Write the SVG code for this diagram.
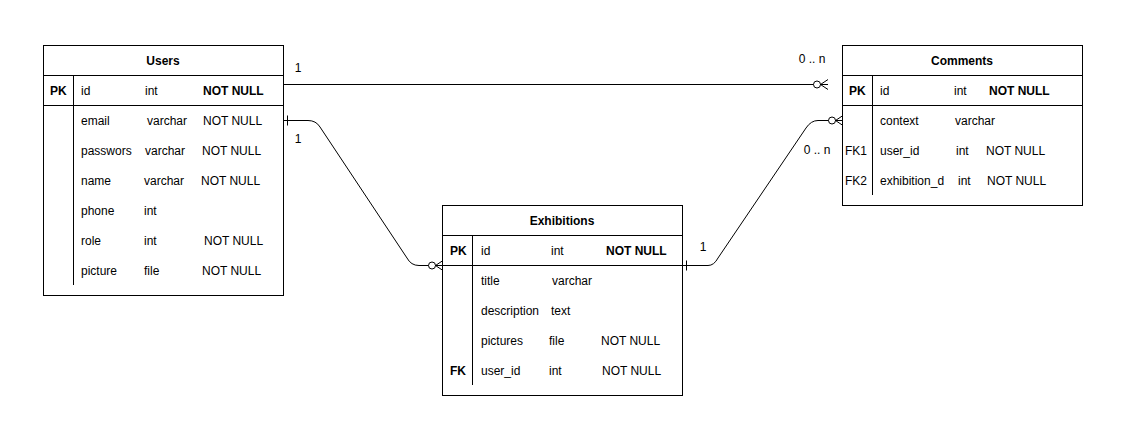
<svg xmlns="http://www.w3.org/2000/svg" width="1131" height="436" viewBox="0 0 1131 436">
<style>
.box{fill:#fff;stroke:#000;stroke-width:1}
.ln{stroke:#000;stroke-width:1;fill:none}
text{font-family:"Liberation Sans",Arial,sans-serif;font-size:12px;fill:#000}
.b{font-weight:bold}
.c{text-anchor:middle}
.conn{stroke:#000;stroke-width:1;fill:none}
</style>
<defs>
<marker id="many" markerWidth="16" markerHeight="12" refX="15" refY="6" orient="auto" markerUnits="userSpaceOnUse">
<circle cx="4" cy="6" r="3.5" fill="#fff" stroke="#000"/>
<path d="M7.5 6 L15 6 M7.5 6 L15 1 M7.5 6 L15 11" stroke="#000" fill="none"/>
</marker>
<marker id="one" markerWidth="10" markerHeight="12" refX="0" refY="6" orient="auto" markerUnits="userSpaceOnUse">
<path d="M4.5 1 L4.5 11" stroke="#000"/>
</marker>
</defs>
<rect width="1131" height="436" fill="#fff"/>

<g id="connectors">
<path class="conn" d="M282.5 84.5 L828 84.5" stroke="#555" marker-end="url(#many)"/>
<path class="conn" d="M283 120.5 L308 120.5 Q316 120.5 320 127 L407 258 Q411 265.5 419 265.5 L443 265.5" marker-start="url(#one)" marker-end="url(#many)"/>
<path class="conn" d="M682 265.5 L708 265.5 Q714 265.5 718 258 L806 128 Q811 120.5 818 120.5 L843 120.5" marker-start="url(#one)" marker-end="url(#many)"/>
<text x="298" y="72" class="c">1</text>
<text x="298" y="143" class="c">1</text>
<text x="812" y="63" class="c">0 .. n</text>
<text x="817" y="154" class="c">0 .. n</text>
<text x="703" y="251" class="c">1</text>
</g>

<g id="users">
<rect class="box" x="43.5" y="45.5" width="240" height="250"/>
<path class="ln" d="M43.5 75.5 H283.5 M43.5 105.5 H283.5 M73.5 75.5 V285"/>
<text x="163" y="65" class="c b">Users</text>
<text x="50" y="95" class="b">PK</text>
<text x="81" y="95">id</text>
<text x="145" y="95">int</text>
<text x="203" y="95" class="b">NOT NULL</text>
<text x="81" y="125">email</text><text x="147" y="125">varchar</text><text x="203" y="125">NOT NULL</text>
<text x="81" y="155">passwors</text><text x="145" y="155">varchar</text><text x="202" y="155">NOT NULL</text>
<text x="81" y="185">name</text><text x="144" y="185">varchar</text><text x="201" y="185">NOT NULL</text>
<text x="81" y="215">phone</text><text x="144" y="215">int</text>
<text x="81" y="245">role</text><text x="144" y="245">int</text><text x="204" y="245">NOT NULL</text>
<text x="81" y="275">picture</text><text x="144" y="275">file</text><text x="202" y="275">NOT NULL</text>
</g>

<g id="comments">
<rect class="box" x="842.5" y="45.5" width="240" height="160"/>
<path class="ln" d="M842.5 75.5 H1082.5 M842.5 105.5 H1082.5 M872.5 75.5 V195"/>
<text x="962" y="65" class="c b">Comments</text>
<text x="849" y="95" class="b">PK</text>
<text x="880" y="95">id</text>
<text x="954" y="95">int</text>
<text x="989" y="95" class="b">NOT NULL</text>
<text x="880" y="125">context</text><text x="955" y="125">varchar</text>
<text x="845" y="155">FK1</text><text x="880" y="155">user_id</text><text x="956" y="155">int</text><text x="986" y="155">NOT NULL</text>
<text x="845" y="185">FK2</text><text x="880" y="185">exhibition_d</text><text x="958" y="185">int</text><text x="987" y="185">NOT NULL</text>
</g>

<g id="exhibitions">
<rect class="box" x="442.5" y="205.5" width="240" height="190"/>
<path class="ln" d="M442.5 235.5 H682.5 M442.5 265.5 H682.5 M472.5 235.5 V385"/>
<text x="562" y="225" class="c b">Exhibitions</text>
<text x="450" y="255" class="b">PK</text>
<text x="481" y="255">id</text>
<text x="551" y="255">int</text>
<text x="606" y="255" class="b">NOT NULL</text>
<text x="481" y="285">title</text><text x="552" y="285">varchar</text>
<text x="481" y="315">description</text><text x="551" y="315">text</text>
<text x="481" y="345">pictures</text><text x="549" y="345">file</text><text x="601" y="345">NOT NULL</text>
<text x="450" y="375" class="b">FK</text><text x="481" y="375">user_id</text><text x="549" y="375">int</text><text x="602" y="375">NOT NULL</text>
</g>
</svg>
